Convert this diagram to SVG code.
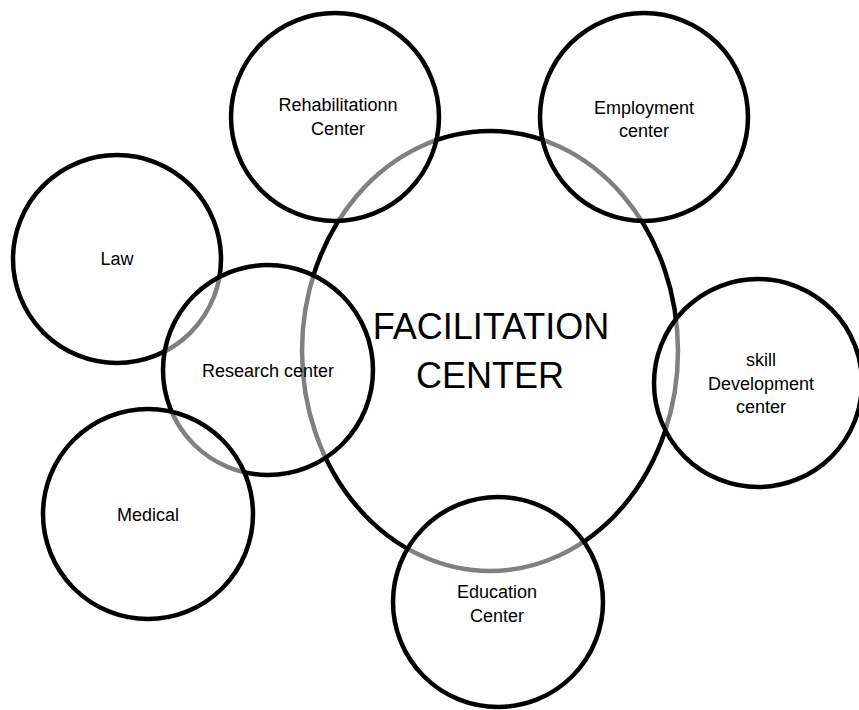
<svg xmlns="http://www.w3.org/2000/svg" width="859" height="710" viewBox="0 0 859 710">
<style>
.n{fill:#ffffff;fill-opacity:0.5;stroke:#000;stroke-width:4.5}
.t{font-family:"Liberation Sans",Arial,sans-serif;font-size:18px;fill:#000;text-anchor:middle}
.big{font-family:"Liberation Sans",Arial,sans-serif;font-size:36px;fill:#000;text-anchor:middle}
</style>
<rect width="859" height="710" fill="#fff"/>
<g id="connectors"></g>
<g id="facilitation">
<ellipse class="n" cx="490" cy="351" rx="188" ry="220"/>
</g>
<g id="law">
<circle class="n" cx="117" cy="259" r="104"/>
<text class="t" x="117" y="265">Law</text>
</g>
<g id="research">
<circle class="n" cx="268" cy="370" r="105"/>
<text class="t" x="268" y="377">Research center</text>
</g>
<g id="medical">
<circle class="n" cx="148" cy="514" r="105"/>
<text class="t" x="148" y="521">Medical</text>
</g>
<g id="rehabilitation">
<circle class="n" cx="335" cy="117" r="104"/>
<text class="t" x="338" y="111">Rehabilitationn</text>
<text class="t" x="338" y="135">Center</text>
</g>
<g id="employment">
<circle class="n" cx="644" cy="117" r="104"/>
<text class="t" x="644" y="114">Employment</text>
<text class="t" x="644" y="137">center</text>
</g>
<g id="skill">
<circle class="n" cx="758" cy="383" r="104"/>
<text class="t" x="761" y="366">skill</text>
<text class="t" x="761" y="390">Development</text>
<text class="t" x="761" y="413">center</text>
</g>
<g id="education">
<circle class="n" cx="498" cy="602" r="105"/>
<text class="t" x="497" y="598">Education</text>
<text class="t" x="497" y="622">Center</text>
</g>
<g id="facilitation-label">
<text class="big" x="491" y="339">FACILITATION</text>
<text class="big" x="490" y="388">CENTER</text>
</g>
</svg>
